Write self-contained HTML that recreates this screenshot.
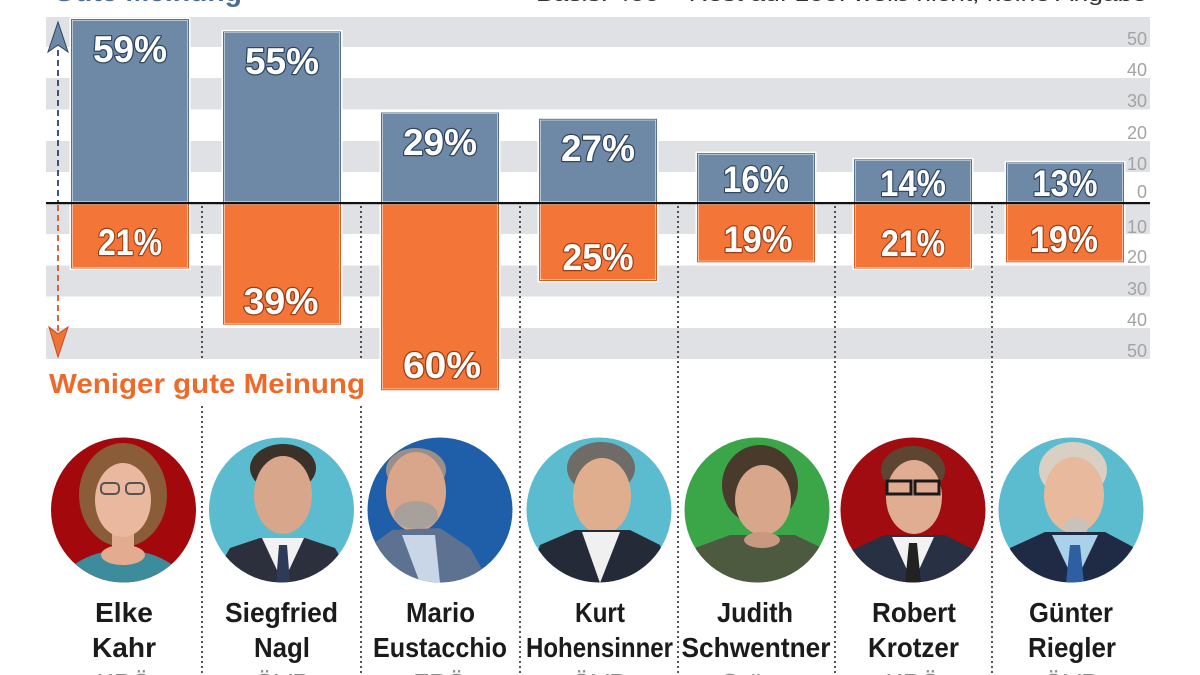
<!DOCTYPE html>
<html><head><meta charset="utf-8"><style>
html,body{margin:0;padding:0;background:#fff;}
svg{display:block;}
text{font-family:"Liberation Sans","DejaVu Sans",sans-serif;}
.ax{font-size:18px;fill:#a3a3a3;text-anchor:end;}
.pct{font-size:37px;font-weight:bold;fill:#fff;text-anchor:middle;paint-order:stroke;stroke-width:2.5px;stroke-linejoin:round;}
.pb{stroke:#2f4560;}
.po{stroke:#9c3d14;}
.nm{font-size:28px;font-weight:bold;fill:#1b1b1b;text-anchor:middle;}
.pt{font-size:26px;fill:#8a8a8a;text-anchor:middle;}
.sep{stroke:#2a2a2a;stroke-width:1.6;stroke-dasharray:2 3;}
</style></head><body>
<svg width="1200" height="675" viewBox="0 0 1200 675" xmlns="http://www.w3.org/2000/svg">
<defs>
<clipPath id="c1"><circle cx="123.5" cy="510" r="72.5"/></clipPath>
<clipPath id="c2"><circle cx="281.5" cy="510" r="72.5"/></clipPath>
<clipPath id="c3"><circle cx="440" cy="510" r="72.5"/></clipPath>
<clipPath id="c4"><circle cx="599" cy="510" r="72.5"/></clipPath>
<clipPath id="c5"><circle cx="757" cy="510" r="72.5"/></clipPath>
<clipPath id="c6"><circle cx="913" cy="510" r="72.5"/></clipPath>
<clipPath id="c7"><circle cx="1071" cy="510" r="72.5"/></clipPath>
</defs>

<!-- top cut-off texts -->
<text x="53" y="1" font-size="28" font-weight="bold" fill="#4b6c95" textLength="189" lengthAdjust="spacingAndGlyphs">Gute Meinung</text>
<text x="536" y="1" font-size="20" fill="#333" textLength="611" lengthAdjust="spacingAndGlyphs">Basis: 400 – Rest auf 100: weiß nicht, keine Angabe</text>

<!-- bands -->
<g fill="#dfe1e4">
<rect x="46" y="17" width="1104" height="30"/>
<rect x="46" y="78" width="1104" height="31.5"/>
<rect x="46" y="141" width="1104" height="31"/>
<rect x="46" y="204" width="1104" height="30"/>
<rect x="46" y="265.5" width="1104" height="31"/>
<rect x="46" y="328" width="1104" height="31"/>
</g>

<!-- axis labels -->
<text class="ax" x="1147" y="45">50</text>
<text class="ax" x="1147" y="76">40</text>
<text class="ax" x="1147" y="107">30</text>
<text class="ax" x="1147" y="139">20</text>
<text class="ax" x="1147" y="170">10</text>
<text class="ax" x="1147" y="198">0</text>
<text class="ax" x="1147" y="233">10</text>
<text class="ax" x="1147" y="263">20</text>
<text class="ax" x="1147" y="295">30</text>
<text class="ax" x="1147" y="326">40</text>
<text class="ax" x="1147" y="357">50</text>

<!-- separators -->
<g class="sep">
<line x1="202" y1="206" x2="202" y2="359"/><line x1="202" y1="406" x2="202" y2="675"/>
<line x1="361" y1="206" x2="361" y2="359"/><line x1="361" y1="406" x2="361" y2="675"/>
<line x1="520" y1="206" x2="520" y2="675"/>
<line x1="678" y1="206" x2="678" y2="675"/>
<line x1="835" y1="206" x2="835" y2="675"/>
<line x1="992" y1="206" x2="992" y2="675"/>
</g>

<!-- bars -->
<g stroke="#fff" stroke-width="3">
<rect x="71" y="19" width="118" height="184" fill="#6d89a6"/>
<rect x="223" y="31.4" width="118" height="171.6" fill="#6d89a6"/>
<rect x="381" y="112.5" width="118" height="90.5" fill="#6d89a6"/>
<rect x="539" y="118.8" width="118" height="84.2" fill="#6d89a6"/>
<rect x="697" y="153.1" width="118" height="49.9" fill="#6d89a6"/>
<rect x="854" y="159.3" width="118" height="43.7" fill="#6d89a6"/>
<rect x="1006" y="162.4" width="118" height="40.6" fill="#6d89a6"/>
<rect x="71" y="203" width="118" height="65.5" fill="#f37638"/>
<rect x="223" y="203" width="118" height="121.7" fill="#f37638"/>
<rect x="381" y="203" width="118" height="187.2" fill="#f37638"/>
<rect x="539" y="203" width="118" height="78" fill="#f37638"/>
<rect x="697" y="203" width="118" height="59.3" fill="#f37638"/>
<rect x="854" y="203" width="118" height="65.5" fill="#f37638"/>
<rect x="1006" y="203" width="118" height="59.3" fill="#f37638"/>
</g>
<g fill="none" stroke-width="1">
<rect x="71.5" y="19.5" width="117" height="183" stroke="#56708d"/>
<rect x="223.5" y="31.9" width="117" height="170.6" stroke="#56708d"/>
<rect x="381.5" y="113" width="117" height="89.5" stroke="#56708d"/>
<rect x="539.5" y="119.3" width="117" height="83.2" stroke="#56708d"/>
<rect x="697.5" y="153.6" width="117" height="48.9" stroke="#56708d"/>
<rect x="854.5" y="159.8" width="117" height="42.7" stroke="#56708d"/>
<rect x="1006.5" y="162.9" width="117" height="39.6" stroke="#56708d"/>
<rect x="71.5" y="203.5" width="117" height="64.5" stroke="#d85d24"/>
<rect x="223.5" y="203.5" width="117" height="120.7" stroke="#d85d24"/>
<rect x="381.5" y="203.5" width="117" height="186.2" stroke="#d85d24"/>
<rect x="539.5" y="203.5" width="117" height="77" stroke="#d85d24"/>
<rect x="697.5" y="203.5" width="117" height="58.3" stroke="#d85d24"/>
<rect x="854.5" y="203.5" width="117" height="64.5" stroke="#d85d24"/>
<rect x="1006.5" y="203.5" width="117" height="58.3" stroke="#d85d24"/>
</g>

<!-- zero line -->
<rect x="46" y="202" width="1104" height="2.2" fill="#111"/>

<!-- arrows -->
<line x1="58" y1="50" x2="58" y2="202" stroke="#2b4463" stroke-width="1.8" stroke-dasharray="6 4"/>
<polygon points="58,22 48,52 58,45 68,52" fill="#6d89a6" stroke="#2b4463" stroke-width="1"/>
<line x1="58" y1="205" x2="58" y2="332" stroke="#d9562a" stroke-width="1.8" stroke-dasharray="6 4"/>
<polygon points="58,357 49,327 58,334 68,327" fill="#f07236" stroke="#c94a1c" stroke-width="1"/>

<!-- percent labels -->
<text class="pct pb" x="130" y="62" textLength="74" lengthAdjust="spacingAndGlyphs">59%</text>
<text class="pct pb" x="282" y="74" textLength="74" lengthAdjust="spacingAndGlyphs">55%</text>
<text class="pct pb" x="440" y="155" textLength="74" lengthAdjust="spacingAndGlyphs">29%</text>
<text class="pct pb" x="598" y="161" textLength="74" lengthAdjust="spacingAndGlyphs">27%</text>
<text class="pct pb" x="756" y="192" textLength="66" lengthAdjust="spacingAndGlyphs">16%</text>
<text class="pct pb" x="913" y="196" textLength="66" lengthAdjust="spacingAndGlyphs">14%</text>
<text class="pct pb" x="1065" y="196" textLength="65" lengthAdjust="spacingAndGlyphs">13%</text>
<text class="pct po" x="130" y="255" textLength="64" lengthAdjust="spacingAndGlyphs">21%</text>
<text class="pct po" x="281" y="314" textLength="75" lengthAdjust="spacingAndGlyphs">39%</text>
<text class="pct po" x="442" y="378" textLength="78" lengthAdjust="spacingAndGlyphs">60%</text>
<text class="pct po" x="598" y="270" textLength="71" lengthAdjust="spacingAndGlyphs">25%</text>
<text class="pct po" x="758" y="252" textLength="69" lengthAdjust="spacingAndGlyphs">19%</text>
<text class="pct po" x="913" y="256" textLength="64" lengthAdjust="spacingAndGlyphs">21%</text>
<text class="pct po" x="1064" y="252" textLength="68" lengthAdjust="spacingAndGlyphs">19%</text>

<!-- legend text -->
<text x="49" y="393" font-size="28" font-weight="bold" fill="#ee6a2a" textLength="316" lengthAdjust="spacingAndGlyphs">Weniger gute Meinung</text>

<!-- portraits -->
<g clip-path="url(#c1)">
<circle cx="123.5" cy="510" r="73" fill="#a3080d"/>
<ellipse cx="123" cy="495" rx="44" ry="52" fill="#8a5c38"/>
<rect x="112" y="520" width="22" height="30" fill="#e3ab90"/>
<ellipse cx="123" cy="500" rx="28" ry="37" fill="#eab89e"/>
<rect x="101" y="483" width="18" height="11" rx="4" fill="none" stroke="#555" stroke-width="2"/>
<rect x="126" y="483" width="18" height="11" rx="4" fill="none" stroke="#555" stroke-width="2"/>
<ellipse cx="123" cy="598" rx="68" ry="48" fill="#3d8c9b"/>
<ellipse cx="123" cy="555" rx="22" ry="10" fill="#e3ab90"/>
</g>
<g clip-path="url(#c2)">
<circle cx="281.5" cy="510" r="73" fill="#5bbbcf"/>
<ellipse cx="283" cy="468" rx="33" ry="24" fill="#3b3128"/>
<ellipse cx="283" cy="495" rx="29" ry="39" fill="#d8a68a"/>
<polygon points="210,583 230,548 260,538 305,538 335,548 355,583" fill="#2b303c"/>
<polygon points="262,538 283,583 304,538" fill="#f2f2f2"/>
<polygon points="279,545 287,545 290,583 276,583" fill="#2d3a5a"/>
</g>
<g clip-path="url(#c3)">
<circle cx="440" cy="510" r="73" fill="#1f5fa9"/>
<ellipse cx="416" cy="470" rx="30" ry="22" fill="#9a8f86"/>
<ellipse cx="416" cy="492" rx="30" ry="40" fill="#d9a68b"/>
<ellipse cx="416" cy="515" rx="22" ry="14" fill="#a8a09a"/>
<polygon points="366,583 368,548 392,530 440,528 470,548 490,583" fill="#5d7190"/>
<polygon points="402,535 420,583 440,583 435,535" fill="#c9d6e8"/>
</g>
<g clip-path="url(#c4)">
<circle cx="599" cy="510" r="73" fill="#5bbbcf"/>
<ellipse cx="601" cy="468" rx="34" ry="26" fill="#6f6b66"/>
<ellipse cx="602" cy="496" rx="29" ry="38" fill="#dfae8f"/>
<polygon points="527,583 540,545 575,530 630,530 660,545 672,583" fill="#252a38"/>
<polygon points="582,532 600,583 620,532" fill="#f0f0f0"/>
</g>
<g clip-path="url(#c5)">
<circle cx="757" cy="510" r="73" fill="#3aa648"/>
<ellipse cx="760" cy="485" rx="38" ry="40" fill="#4a3a2c"/>
<ellipse cx="763" cy="500" rx="28" ry="35" fill="#d7a68b"/>
<polygon points="684,583 695,548 730,535 795,535 822,548 830,583" fill="#4e5a40"/>
<ellipse cx="762" cy="540" rx="18" ry="8" fill="#c99880"/>
</g>
<g clip-path="url(#c6)">
<circle cx="913" cy="510" r="73" fill="#a10c10"/>
<ellipse cx="913" cy="470" rx="32" ry="24" fill="#5c4631"/>
<ellipse cx="914" cy="497" rx="28" ry="37" fill="#e0ad93"/>
<rect x="887" y="481" width="24" height="13" fill="none" stroke="#1a1a1a" stroke-width="3"/>
<rect x="915" y="481" width="24" height="13" fill="none" stroke="#1a1a1a" stroke-width="3"/>
<polygon points="841,583 852,550 885,535 945,535 975,550 986,583" fill="#283044"/>
<polygon points="892,537 913,583 934,537" fill="#f2f2f2"/>
<polygon points="909,543 917,543 921,583 905,583" fill="#222"/>
</g>
<g clip-path="url(#c7)">
<circle cx="1071" cy="510" r="73" fill="#5bbbcf"/>
<ellipse cx="1073" cy="470" rx="34" ry="28" fill="#d9d0c3"/>
<ellipse cx="1074" cy="495" rx="30" ry="38" fill="#e8b99c"/>
<ellipse cx="1076" cy="527" rx="12" ry="10" fill="#c8c2ba"/>
<polygon points="999,583 1010,548 1045,532 1105,532 1135,548 1143,583" fill="#1f2a45"/>
<polygon points="1052,535 1075,583 1098,535" fill="#a9d1ea"/>
<polygon points="1070,545 1080,545 1084,583 1066,583" fill="#2e5fa0"/>
</g>

<!-- names -->
<text class="nm" x="124" y="622" textLength="58" lengthAdjust="spacingAndGlyphs">Elke</text>
<text class="nm" x="124" y="657" textLength="64" lengthAdjust="spacingAndGlyphs">Kahr</text>
<text class="pt" x="124" y="692">KPÖ</text>

<text class="nm" x="281.5" y="622" textLength="113" lengthAdjust="spacingAndGlyphs">Siegfried</text>
<text class="nm" x="282" y="657" textLength="56" lengthAdjust="spacingAndGlyphs">Nagl</text>
<text class="pt" x="282" y="692">ÖVP</text>

<text class="nm" x="440.5" y="622" textLength="69" lengthAdjust="spacingAndGlyphs">Mario</text>
<text class="nm" x="440" y="657" textLength="134" lengthAdjust="spacingAndGlyphs">Eustacchio</text>
<text class="pt" x="440" y="692">FPÖ</text>

<text class="nm" x="600" y="622" textLength="50" lengthAdjust="spacingAndGlyphs">Kurt</text>
<text class="nm" x="599.5" y="657" textLength="147" lengthAdjust="spacingAndGlyphs">Hohensinner</text>
<text class="pt" x="599" y="692">ÖVP</text>

<text class="nm" x="755" y="622" textLength="76" lengthAdjust="spacingAndGlyphs">Judith</text>
<text class="nm" x="756" y="657" textLength="149" lengthAdjust="spacingAndGlyphs">Schwentner</text>
<text class="pt" x="756" y="692">Grüne</text>

<text class="nm" x="914" y="622" textLength="84" lengthAdjust="spacingAndGlyphs">Robert</text>
<text class="nm" x="913.5" y="657" textLength="91" lengthAdjust="spacingAndGlyphs">Krotzer</text>
<text class="pt" x="913" y="692">KPÖ</text>

<text class="nm" x="1071" y="622" textLength="84" lengthAdjust="spacingAndGlyphs">Günter</text>
<text class="nm" x="1072" y="657" textLength="88" lengthAdjust="spacingAndGlyphs">Riegler</text>
<text class="pt" x="1071" y="692">ÖVP</text>
</svg>
</body></html>
